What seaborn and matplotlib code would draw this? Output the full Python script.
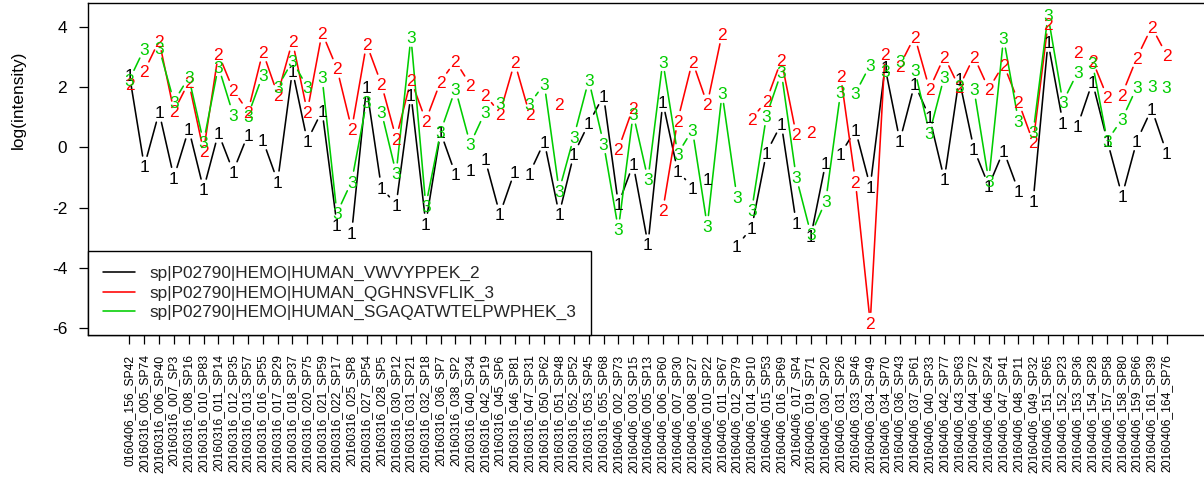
import numpy as np
import pandas as pd
import matplotlib
matplotlib.use("Agg")
import matplotlib.pyplot as plt
import matplotlib.transforms as mtransforms
from matplotlib.lines import Line2D
import seaborn as sns

nan = np.nan

samples = [
    "0160406_156_SP42", "20160316_005_SP74", "20160316_006_SP40", "20160316_007_SP3",
    "20160316_008_SP16", "20160316_010_SP83", "20160316_011_SP14", "20160316_012_SP35",
    "20160316_013_SP57", "20160316_016_SP55", "20160316_017_SP29", "20160316_018_SP37",
    "20160316_020_SP75", "20160316_021_SP59", "20160316_022_SP17", "20160316_025_SP8",
    "20160316_027_SP54", "20160316_028_SP5", "20160316_030_SP12", "20160316_031_SP21",
    "20160316_032_SP18", "20160316_036_SP7", "20160316_038_SP2", "20160316_040_SP34",
    "20160316_042_SP19", "20160316_045_SP6", "20160316_046_SP81", "20160316_047_SP31",
    "20160316_050_SP62", "20160316_051_SP48", "20160316_052_SP52", "20160316_053_SP45",
    "20160316_055_SP68", "20160406_002_SP73", "20160406_003_SP15", "20160406_005_SP13",
    "20160406_006_SP60", "20160406_007_SP30", "20160406_008_SP27", "20160406_010_SP22",
    "20160406_011_SP67", "20160406_012_SP79", "20160406_014_SP10", "20160406_015_SP53",
    "20160406_016_SP69", "20160406_017_SP4", "20160406_019_SP71", "20160406_030_SP20",
    "20160406_031_SP26", "20160406_033_SP46", "20160406_034_SP49", "20160406_034_SP70",
    "20160406_036_SP43", "20160406_037_SP61", "20160406_040_SP33", "20160406_042_SP77",
    "20160406_043_SP63", "20160406_044_SP72", "20160406_046_SP24", "20160406_047_SP41",
    "20160406_048_SP11", "20160406_049_SP32", "20160406_151_SP65", "20160406_152_SP23",
    "20160406_153_SP36", "20160406_154_SP28", "20160406_157_SP58", "20160406_158_SP80",
    "20160406_159_SP66", "20160406_161_SP39", "20160406_164_SP76",
]

peptides = [
    "sp|P02790|HEMO|HUMAN_VWVYPPEK_2",
    "sp|P02790|HEMO|HUMAN_QGHNSVFLIK_3",
    "sp|P02790|HEMO|HUMAN_SGAQATWTELPWPHEK_3",
]

# log intensities per sample (NaN = not quantified)
vwvyppek = [
    2.40, -0.63, 1.17, -1.00, 0.61, -1.39, 0.47, -0.80, 0.43, 0.24,
    -1.13, 2.56, 0.22, 1.22, -2.56, -2.83, 2.00, -1.33, -1.91, 1.76,
    -2.53, 0.50, -0.89, -0.76, -0.39, -2.22, -0.80, -0.87, 0.19, -2.22,
    -0.22, 0.80, 1.72, -1.89, -0.56, -3.22, 1.50, -0.78, -1.33, -1.06,
    nan, -3.28, -2.67, -0.17, 0.78, -2.50, -2.94, -0.50, -0.22, 0.58,
    -1.30, 2.67, 0.22, 2.11, 1.00, -1.06, 2.28, -0.06, -1.28, -0.11,
    -1.44, -1.78, 3.50, 0.83, 0.72, 2.17, 0.22, -1.61, 0.22, 1.28,
    -0.17,
]
qghnsvflik = [
    2.10, 2.53, 3.55, 1.20, 2.17, -0.13, 3.11, 1.91, 1.19, 3.17,
    1.76, 3.53, 1.19, 3.81, 2.63, 0.61, 3.44, 2.11, 0.30, 2.24,
    0.89, 2.19, 2.87, 2.08, 1.76, 1.13, 2.83, 1.11, nan, 1.44,
    nan, nan, nan, -0.06, 1.33, nan, -2.09, 0.89, 2.86, 1.44,
    3.78, nan, 0.94, 1.56, 2.90, 0.44, 0.50, nan, 2.39, -1.13,
    -5.83, 3.11, 2.72, 3.69, 1.94, 3.02, 2.00, 3.02, 1.94, 2.76,
    1.52, 0.17, 4.11, nan, 3.17, 2.89, 1.67, 1.76, 2.98, 4.00,
    3.08,
]
sgaqatwtelpwphek = [
    2.25, 3.28, 3.30, 1.52, 2.33, 0.17, 2.69, 1.09, 1.06, 2.41,
    2.00, 2.87, 2.00, 2.33, -2.19, -1.13, 1.50, 1.19, -0.86, 3.67,
    -1.94, 0.52, 1.94, 0.11, 1.17, 1.48, nan, 1.44, 2.11, -1.44,
    0.36, 2.24, 0.13, -2.72, 1.11, -1.06, 2.86, -0.22, 0.58, -2.61,
    1.80, -1.64, -2.09, 1.06, 2.50, -0.98, -2.89, -1.78, 1.83, 1.80,
    2.74, 2.56, 2.89, 2.58, 0.47, 2.36, 2.06, 1.94, -1.11, 3.64,
    0.89, 0.50, 4.39, 1.50, 2.50, 2.80, 0.22, 0.94, 2.00, 2.06,
    2.00,
]

symbols = ["1", "2", "3"]
colors = ["#000000", "#FF0000", "#00CD00"]

sns.set_theme(style="white")
plt.rcParams["font.family"] = ["Liberation Sans", "DejaVu Sans"]
plt.rcParams["axes.unicode_minus"] = False

W, H = 1204, 486
fs = 12.46          # base text size (pt)
fs_small = 8.72     # rotated sample labels

fig = plt.figure(figsize=(W / 100, H / 100), dpi=100)
ax = fig.add_axes([88 / W, 1 - 335 / H, 1120 / W, 332 / H])

x = np.arange(1, len(samples) + 1)
series = [np.array(vwvyppek), np.array(qghnsvflik), np.array(sgaqatwtelpwphek)]

allv = np.concatenate(series)
lo, hi = np.nanmin(allv), np.nanmax(allv)
xpad = 0.04 * (x[-1] - x[0])
ypad = 0.04 * (hi - lo)
xlim = (x[0] - xpad, x[-1] + xpad)
ylim = (lo - ypad, hi + ypad)
ax.set_xlim(*xlim)
ax.set_ylim(*ylim)

# Lines between neighbouring points, with a gap left around each symbol
gap_px = 10.4
to_disp = ax.transData
to_data = ax.transData.inverted()
rows = []
seg = 0
for name, vals in zip(peptides, series):
    pts = to_disp.transform(np.column_stack([x, vals]))
    for i in range(len(x) - 1):
        if np.isnan(vals[i]) or np.isnan(vals[i + 1]):
            continue
        d = pts[i + 1] - pts[i]
        L = np.hypot(*d)
        if L <= 2 * gap_px:
            continue
        a = pts[i] + d * gap_px / L
        b = pts[i + 1] - d * gap_px / L
        (xa, ya), (xb, yb) = to_data.transform([a, b])
        rows.append(dict(x=xa, y=ya, seg=seg, peptide=name))
        rows.append(dict(x=xb, y=yb, seg=seg, peptide=name))
        seg += 1
segs = pd.DataFrame(rows)

sns.lineplot(data=segs, x="x", y="y", hue="peptide", units="seg",
             estimator=None, sort=False, legend=False,
             palette=dict(zip(peptides, colors)), linewidth=1.15, ax=ax)

# Numbered symbols at each point
shift = mtransforms.offset_copy(ax.transData, fig=fig, x=0, y=-0.358 * fs, units="points")
for sym, col, vals in zip(symbols, colors, series):
    for xi, v in zip(x, vals):
        if np.isnan(v):
            continue
        ax.text(xi, v, sym, color=col, fontsize=fs, ha="center", va="baseline",
                transform=shift, zorder=3)

ax.set_xlim(*xlim)
ax.set_ylim(*ylim)

ax.set_xticks(x)
ax.set_xticklabels(samples, rotation=90, fontsize=fs_small)
ax.set_yticks([-6, -4, -2, 0, 2, 4])
ax.set_yticklabels(["-6", "-4", "-2", "0", "2", "4"], fontsize=fs)
ax.tick_params(axis="both", which="major", direction="out", length=6.5, width=0.9,
               color="black", labelcolor="black", bottom=True, left=True)
ax.tick_params(axis="y", pad=8.5)
ax.tick_params(axis="x", pad=7.5)
ax.set_xlabel("")
ax.set_ylabel("")
fig.text(18 / W, 1 - 100 / H, "log(intensity)", rotation=90, fontsize=fs,
         ha="center", va="center", color="black")

for sp in ax.spines.values():
    sp.set_visible(True)
    sp.set_color("black")
    sp.set_linewidth(1.0)

handles = [Line2D([], [], color=c, lw=1.15) for c in colors]
leg = ax.legend(handles, peptides, loc="lower left", bbox_to_anchor=(0, 0),
                borderaxespad=0, frameon=True, fancybox=False, edgecolor="black",
                framealpha=1, facecolor="white", fontsize=fs, handlelength=1.85,
                handletextpad=0.85, borderpad=0.85, labelspacing=0.25)
leg.get_frame().set_linewidth(1.0)
leg.set_zorder(5)

fig.savefig("out.png", dpi=100)
